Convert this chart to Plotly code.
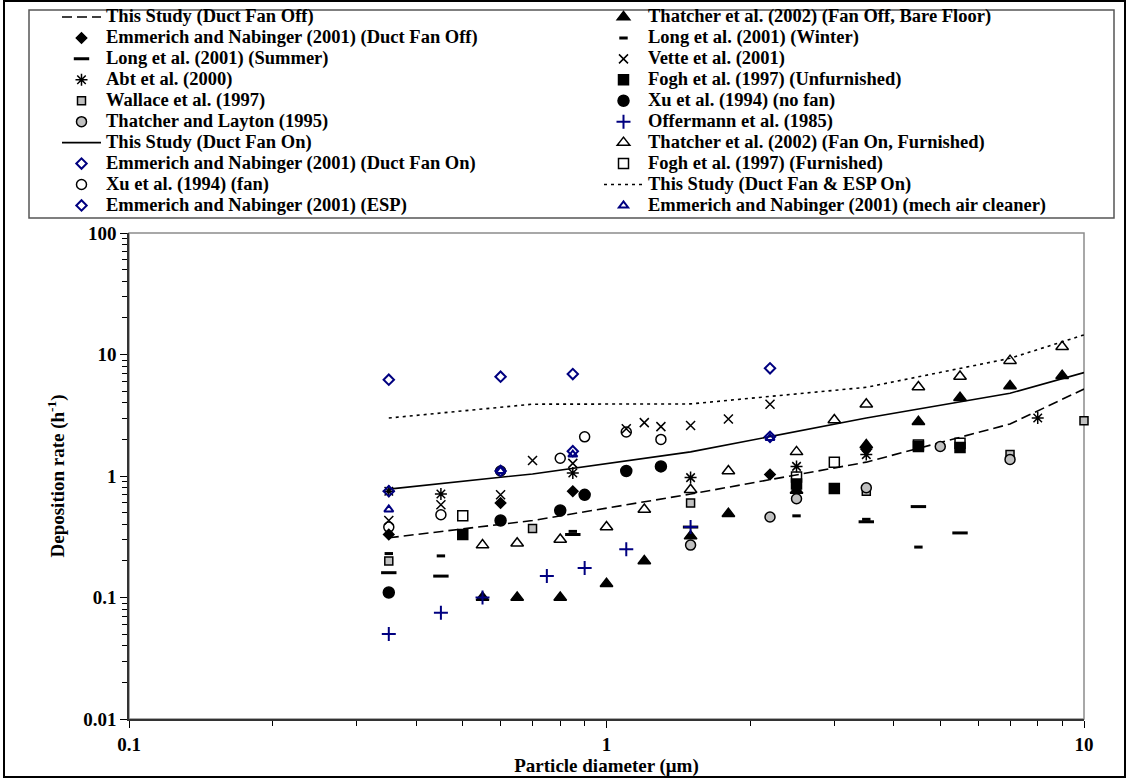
import plotly.graph_objects as go

# ---------------- data ----------------
study_x = [0.35, 0.7, 1.5, 3.5, 7, 10]
study_off_y = [0.31, 0.43, 0.71, 1.3, 2.68, 5.2]
study_on_y = [0.78, 1.04, 1.58, 3.0, 4.8, 7.1]
study_esp_y = [3.0, 3.9, 3.92, 5.37, 9.3, 14.5]

emm_off_x = [0.35, 0.6, 0.85, 2.2, 3.5]
emm_off_y = [0.33, 0.6, 0.75, 1.03, 1.66]
emm_on_x = [0.35, 0.6, 0.85, 2.2]
emm_on_y = [0.75, 1.1, 1.6, 2.1]
emm_esp_x = [0.35, 0.6, 0.85, 2.2]
emm_esp_y = [6.2, 6.57, 6.9, 7.7]
emm_mech_x = [0.35, 0.6, 0.85, 2.2]
emm_mech_y = [0.53, 1.1, 1.5, 2.05]

long_sum_x = [0.35, 0.45, 0.85, 1.5, 3.5, 4.5, 5.5]
long_sum_y = [0.16, 0.15, 0.33, 0.38, 0.42, 0.56, 0.34]
long_win_x = [0.35, 0.45, 0.85, 2.5, 3.5, 4.5]
long_win_y = [0.23, 0.22, 0.35, 0.47, 0.44, 0.26]

abt_x = [0.35, 0.45, 0.85, 1.5, 2.5, 3.5, 8.0]
abt_y = [0.75, 0.71, 1.06, 0.97, 1.2, 1.5, 3.0]

wallace_x = [0.35, 0.7, 1.5, 3.5, 7, 10]
wallace_y = [0.2, 0.37, 0.6, 0.75, 1.5, 2.85]

tl_x = [1.5, 2.2, 2.5, 3.5, 5.0, 7.0]
tl_y = [0.27, 0.46, 0.65, 0.8, 1.75, 1.37]

xu_fan_x = [0.35, 0.45, 0.6, 0.8, 0.9, 1.1, 1.3]
xu_fan_y = [0.38, 0.48, 1.1, 1.4, 2.1, 2.3, 2.0]
xu_nofan_x = [0.35, 0.6, 0.8, 0.9, 1.1, 1.3]
xu_nofan_y = [0.11, 0.43, 0.52, 0.7, 1.1, 1.2]

th_off_x = [0.55, 0.65, 0.8, 1.0, 1.2, 1.5, 1.8, 2.5, 3.5, 4.5, 5.5, 7, 9]
th_off_y = [0.1, 0.1, 0.1, 0.13, 0.2, 0.32, 0.49, 0.76, 1.8, 2.8, 4.4, 5.5, 6.7]
th_on_x = [0.55, 0.65, 0.8, 1.0, 1.2, 1.5, 1.8, 2.5, 3.0, 3.5, 4.5, 5.5, 7, 9]
th_on_y = [0.27, 0.28, 0.3, 0.38, 0.53, 0.77, 1.1, 1.58, 2.89, 3.89, 5.4, 6.6, 8.9, 11.6]

vette_x = [0.35, 0.45, 0.6, 0.7, 0.85, 1.1, 1.2, 1.3, 1.5, 1.8, 2.2]
vette_y = [0.43, 0.58, 0.7, 1.34, 1.27, 2.45, 2.75, 2.55, 2.6, 2.95, 3.9]

fogh_unf_x = [0.5, 2.5, 3.0, 4.5, 5.5]
fogh_unf_y = [0.33, 0.86, 0.79, 1.75, 1.72]
fogh_fur_x = [0.5, 2.5, 3.0, 4.5, 5.5]
fogh_fur_y = [0.47, 0.98, 1.3, 1.8, 1.86]

offer_x = [0.35, 0.45, 0.55, 0.75, 0.9, 1.1, 1.5]
offer_y = [0.05, 0.075, 0.1, 0.15, 0.175, 0.25, 0.38]

x_ticks = [0.1, 1, 10]
x_tick_text = ["0.1", "1", "10"]
y_ticks = [0.01, 0.1, 1, 10, 100]
y_tick_text = ["0.01", "0.1", "1", "10", "100"]

# ---------------- figure ----------------
W, H = 1128, 779
L, R, T, B = 129, 1084, 233, 719
NAVY = "#000080"
GRAY = "#C0C0C0"
FONT = "Liberation Serif, Times New Roman, serif"


def px_x(p):
    return (p - L) / (R - L)


def px_y(p):
    return (B - p) / (B - T)


def nm(s):
    return '<span style="font-size:18.5px">' + s + "</span>"


fig = go.Figure()


def add_line(x, y, name, dash, rank):
    fig.add_trace(go.Scatter(x=x, y=y, mode="lines", name=nm(name), legendrank=rank,
                             line=dict(color="black", width=1.6, dash=dash), cliponaxis=False))


def add_pts(x, y, name, symbol, size, color, rank, fill=None, lw=1.5):
    fig.add_trace(go.Scatter(
        x=x, y=y, mode="markers", name=nm(name), legendrank=rank, cliponaxis=False,
        marker=dict(symbol=symbol, size=size, color=fill if fill else color,
                    line=dict(color=color, width=lw))))


# left column ranks odd, right column ranks even (2-col horizontal legend)
add_line(study_x, study_off_y, "This Study (Duct Fan Off)", "10px,5px", 1)
add_line(study_x, study_on_y, "This Study (Duct Fan On)", "solid", 13)
add_line(study_x, study_esp_y, "This Study (Duct Fan &amp; ESP On)", "3px,4px", 18)

add_pts(long_sum_x, long_sum_y, "Long et al. (2001) (Summer)", "line-ew-open", 11, "black", 5, lw=3)
add_pts(long_win_x, long_win_y, "Long et al. (2001) (Winter)", "line-ew-open", 6, "black", 4, lw=3)
add_pts(wallace_x, wallace_y, "Wallace et al. (1997)", "square", 8, "black", 9, fill=GRAY)
add_pts(tl_x, tl_y, "Thatcher and Layton (1995)", "circle", 10, "black", 11, fill=GRAY)
add_pts(fogh_unf_x, fogh_unf_y, "Fogh et al. (1997) (Unfurnished)", "square", 10, "black", 8)
add_pts(fogh_fur_x, fogh_fur_y, "Fogh et al. (1997) (Furnished)", "square-open", 10, "black", 16)
add_pts(th_off_x, th_off_y, "Thatcher et al. (2002) (Fan Off, Bare Floor)", "triangle-up", 11, "black", 2)
add_pts(th_on_x, th_on_y, "Thatcher et al. (2002) (Fan On, Furnished)", "triangle-up-open", 11, "black", 14)
add_pts(xu_nofan_x, xu_nofan_y, "Xu et al. (1994) (no fan)", "circle", 11, "black", 10)
add_pts(xu_fan_x, xu_fan_y, "Xu et al. (1994) (fan)", "circle-open", 10, "black", 17)
add_pts(vette_x, vette_y, "Vette et al. (2001)", "x-thin-open", 9, "black", 6)
add_pts(abt_x, abt_y, "Abt et al. (2000)", "asterisk-open", 10, "black", 7)
add_pts(emm_off_x, emm_off_y, "Emmerich and Nabinger (2001) (Duct Fan Off)", "diamond", 8, "black", 3)
add_pts(offer_x, offer_y, "Offermann et al. (1985)", "cross-thin-open", 10, NAVY, 12, lw=2)
add_pts(emm_on_x, emm_on_y, "Emmerich and Nabinger (2001) (Duct Fan On)", "diamond-open", 8, NAVY, 15, lw=2)
add_pts(emm_esp_x, emm_esp_y, "Emmerich and Nabinger (2001) (ESP)", "diamond-open", 8, NAVY, 19, lw=2)
add_pts(emm_mech_x, emm_mech_y, "Emmerich and Nabinger (2001) (mech air cleaner)", "triangle-up-open", 8, NAVY, 20, lw=2)

axis_common = dict(
    type="log", showgrid=False, zeroline=False, showline=True, linecolor="#333333", linewidth=1.5,
    ticks="outside", ticklen=7, tickwidth=1.2, tickcolor="black",
    tickfont=dict(family=FONT, size=19, color="black", weight="bold"),
    minor=dict(ticks="outside", ticklen=5, tickwidth=1.2, tickcolor="black", dtick="D1", showgrid=False),
    mirror=False,
)

fig.update_xaxes(**axis_common, range=[-1, 1], tickvals=x_ticks, ticktext=x_tick_text,
                 title=dict(text="Particle diameter (μm)", standoff=0,
                            font=dict(family=FONT, size=19, color="black", weight="bold")))
fig.update_yaxes(**axis_common, range=[-2, 2], tickvals=y_ticks, ticktext=y_tick_text,
                 title=dict(text="Deposition rate (h<sup>-1</sup>)", standoff=14,
                            font=dict(family=FONT, size=19, color="black", weight="bold")))

shapes = [
    # plot area frame (gray top/right)
    dict(type="rect", xref="paper", yref="paper", x0=0, x1=1, y0=0, y1=1,
         line=dict(color="#8c8c8c", width=1.5), layer="below"),
    # legend box
    dict(type="rect", xref="paper", yref="paper", x0=px_x(29), x1=px_x(1114), y0=px_y(218), y1=px_y(10),
         line=dict(color="#555555", width=1.5), layer="below"),
    # outer chart border
    dict(type="rect", xref="paper", yref="paper", x0=px_x(4), x1=px_x(1125), y0=px_y(777), y1=px_y(1),
         line=dict(color="black", width=2), layer="below"),
]

fig.update_layout(
    width=W, height=H,
    margin=dict(l=L, r=W - R, t=T, b=H - B, autoexpand=False),
    paper_bgcolor="white", plot_bgcolor="white",
    font=dict(family=FONT, color="black"),
    shapes=shapes,
    showlegend=True,
    legend=dict(
        orientation="h", entrywidthmode="fraction", entrywidth=0.5,
        x=px_x(57), xanchor="left", y=px_y(1.5), yanchor="top",
        itemwidth=39, borderwidth=0, bgcolor="rgba(0,0,0,0)",
        font=dict(family=FONT, size=13.8, color="black", weight="bold"),
        traceorder="normal",
    ),
)

fig.write_html("out.html", config={"displayModeBar": False},
               post_script="document.body.style.margin='0px';document.body.style.overflow='hidden';")
